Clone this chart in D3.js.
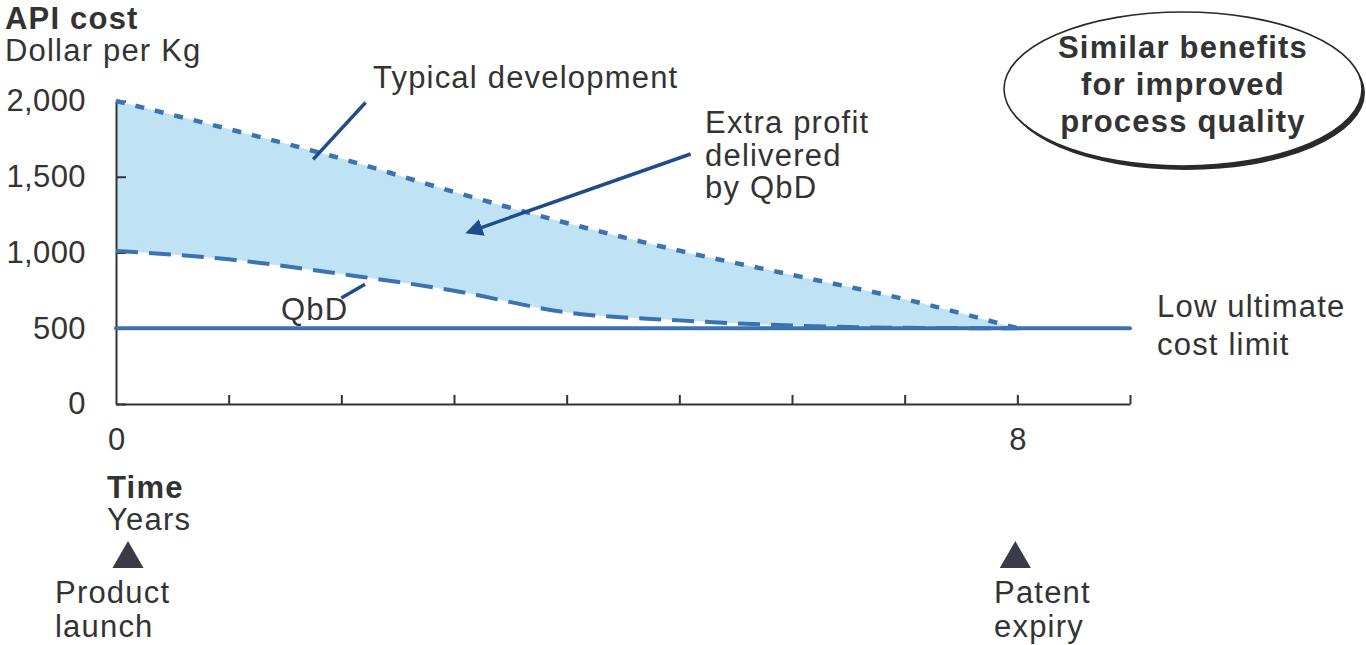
<!DOCTYPE html>
<html>
<head>
<meta charset="utf-8">
<script src="https://cdn.jsdelivr.net/npm/d3@7/dist/d3.min.js"></script>
<style>
  html, body { margin: 0; padding: 0; background: #fff; }
  svg { display: block; font-family: "Liberation Sans", Arial, Helvetica, sans-serif; }
</style>
</head>
<body>
<svg id="chart" width="1366" height="645"></svg>
<script>
// Years after product launch
const years = [0, 1, 2, 3, 4, 5, 6, 7, 8];
// API cost, dollar per kg
const typicalCost = [2000, 1815, 1620, 1400, 1195, 1012, 852, 692, 500];
const qbdCost     = [1010, 955, 858, 748, 605, 552, 518, 503, 500];
const costLimit = 500;
const yTicks = [0, 500, 1000, 1500, 2000];
const xTicks = [0, 1, 2, 3, 4, 5, 6, 7, 8, 9];
const xTickLabels = { 0: "0", 8: "8" };

const svg = d3.select("#chart");
const textColor = "#333";
const lineBlue = "#3b73b0";
const arrowBlue = "#1f4d8c";
const fontSize = 31;
const spacing = "1.2px";

const x = d3.scaleLinear().domain([0, 9]).range([116, 1130]);
const y = d3.scaleLinear().domain([0, 2000]).range([404, 101]);

const rows = years.map((t, i) => ({ t, typ: typicalCost[i], qbd: qbdCost[i] }));
const curve = d3.curveMonotoneX;

// shaded band between the two cost curves
svg.append("path")
  .datum(rows)
  .attr("fill", "#bfe2f5")
  .attr("d", d3.area().curve(curve)
    .x(d => x(d.t)).y0(d => y(d.qbd)).y1(d => y(d.typ)));

// axes
const yAxis = d3.axisLeft(y).tickValues(yTicks)
  .tickFormat(d3.format(",")).tickSizeInner(-10).tickSizeOuter(0).tickPadding(30);
const gy = svg.append("g").attr("transform", `translate(${x(0)},0)`).call(yAxis);
gy.select(".domain").attr("stroke", textColor).attr("stroke-width", 2);
gy.selectAll(".tick line").attr("stroke", textColor).attr("stroke-width", 2);
gy.selectAll(".tick text").attr("fill", textColor).attr("font-size", fontSize)
  .attr("letter-spacing", "0.4px")
  .attr("font-family", "Liberation Sans, Arial, sans-serif");

const xAxis = d3.axisBottom(x).tickValues(xTicks)
  .tickFormat(d => xTickLabels[d] || "").tickSizeInner(-9).tickSizeOuter(0).tickPadding(24);
const gx = svg.append("g").attr("transform", `translate(0,${y(0)})`).call(xAxis);
gx.select(".domain").attr("stroke", textColor).attr("stroke-width", 2);
gx.selectAll(".tick line").attr("stroke", textColor).attr("stroke-width", 2);
gx.selectAll(".tick").filter(d => d === 0).select("line").remove();
gx.selectAll(".tick text").attr("fill", textColor).attr("font-size", fontSize)
  .attr("font-family", "Liberation Sans, Arial, sans-serif");

// low ultimate cost limit
svg.append("line")
  .attr("x1", x(0)).attr("x2", x(9))
  .attr("y1", y(costLimit)).attr("y2", y(costLimit))
  .attr("stroke", lineBlue).attr("stroke-width", 4).attr("stroke-linecap", "round");

// QbD curve (long dashes)
svg.append("path")
  .datum(rows)
  .attr("fill", "none").attr("stroke", lineBlue).attr("stroke-width", 4)
  .attr("stroke-dasharray", "22,11")
  .attr("d", d3.line().curve(curve).x(d => x(d.t)).y(d => y(d.qbd)));

// typical development curve (short dashes)
svg.append("path")
  .datum(rows)
  .attr("fill", "none").attr("stroke", lineBlue).attr("stroke-width", 4.5)
  .attr("stroke-dasharray", "9,11")
  .attr("d", d3.line().curve(curve).x(d => x(d.t)).y(d => y(d.typ)));

// pointers
const defs = svg.append("defs");
defs.append("marker").attr("id", "head")
  .attr("viewBox", "0 0 10 10").attr("refX", 8).attr("refY", 5)
  .attr("markerWidth", 5).attr("markerHeight", 5).attr("orient", "auto")
  .append("path").attr("d", "M0,0 L10,5 L0,10 Z").attr("fill", arrowBlue);

function pointer(t0, v0, t1, v1, arrow) {
  const p = svg.append("line")
    .attr("x1", x(t0)).attr("y1", y(v0)).attr("x2", x(t1)).attr("y2", y(v1))
    .attr("stroke", arrowBlue).attr("stroke-width", 3.5);
  if (arrow) p.attr("marker-end", "url(#head)");
}
pointer(2.215, 1990, 1.75, 1615, false);
pointer(5.1, 1650, 3.13, 1135, true);
pointer(2.21, 790, 2.0, 700, false);

// text labels
function label(txt, px, py, opts = {}) {
  return svg.append("text")
    .attr("x", px).attr("y", py)
    .attr("fill", textColor)
    .attr("font-size", opts.size || fontSize)
    .attr("font-weight", opts.bold ? "bold" : "normal")
    .attr("letter-spacing", spacing)
    .attr("text-anchor", opts.anchor || "start")
    .attr("dominant-baseline", "middle")
    .text(txt);
}

label("API cost", 5, 21, { bold: true });
label("Dollar per Kg", 5, 53);
label("Typical development", 373, 80);
label("Extra profit", 705, 125);
label("delivered", 705, 158);
label("by QbD", 705, 190);
label("QbD", 281, 312);
label("Low ultimate", 1157, 309);
label("cost limit", 1157, 347);
label("Time", 107, 490, { bold: true });
label("Years", 107, 522);
label("Product", 55, 595);
label("launch", 55, 629);
label("Patent", 994, 595);
label("expiry", 994, 629);

// milestone markers
const tri = d3.symbol().type(d3.symbolTriangle).size(420);
[0, 8].forEach(t => {
  svg.append("path").attr("d", tri)
    .attr("transform", `translate(${x(t) + (t === 0 ? 12 : -2)},559)`)
    .attr("fill", "#3a3a48");
});

// callout
const cx = 1183, cy = 89;
svg.append("ellipse").attr("cx", cx + 3).attr("cy", cy + 4)
  .attr("rx", 179).attr("ry", 77).attr("fill", "#2a2a2a");
svg.append("ellipse").attr("cx", cx).attr("cy", cy)
  .attr("rx", 179).attr("ry", 77).attr("fill", "#fff")
  .attr("stroke", "#2a2a2a").attr("stroke-width", 1.6);
label("Similar benefits", cx, 50, { bold: true, anchor: "middle" });
label("for improved", cx, 87, { bold: true, anchor: "middle" });
label("process quality", cx, 124, { bold: true, anchor: "middle" });
</script>
</body>
</html>
